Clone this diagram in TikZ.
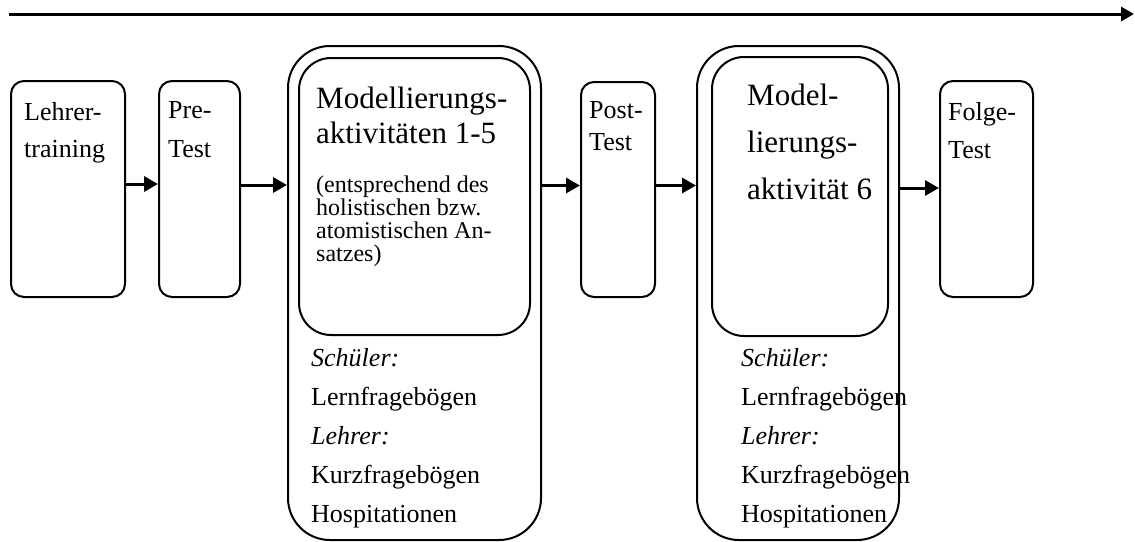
\documentclass[tikz,border=0pt]{standalone}
\usepackage{fontspec}
\setmainfont{Liberation Serif}
\usepackage{tikz}
\usetikzlibrary{arrows.meta, positioning}

\tikzset{
  stage/.style={draw, line width=2pt, rounded corners=13pt, anchor=north west,
    inner sep=0pt},
  phase/.style={draw, line width=2pt, rounded corners=42pt, anchor=north west,
    inner sep=0pt},
  core/.style={draw, line width=2pt, rounded corners=32pt, anchor=north west,
    inner sep=0pt},
  flow/.style={-{Triangle[length=14pt, width=15pt]}, line width=3pt},
  txt/.style={anchor=base west, align=left, inner sep=0pt}
}

\begin{document}
\begin{tikzpicture}[x=1pt, y=-1pt]
    \useasboundingbox (0,0) rectangle (1135,541);

    % time axis
    \coordinate (t0) at (9,14);
    \coordinate (t1) at (1134,14);
    \draw[flow, -{Triangle[length=13pt, width=14pt]}] (t0) -- (t1);

    % boxes
    \node[stage, minimum width=114pt, minimum height=216pt] (lehrer) at (10,80) {};
    \node[stage, minimum width=81pt, minimum height=216pt] (pre) at (158,80) {};
    \node[phase, minimum width=253pt, minimum height=494pt] (mod1) at (287,45) {};
    \node[core, minimum width=231pt, minimum height=277pt] (mod1in) at (298,57) {};
    \node[stage, minimum width=74pt, minimum height=215pt] (post) at (580,81) {};
    \node[phase, minimum width=202pt, minimum height=494pt] (mod2) at (696,45) {};
    \node[core, minimum width=176pt, minimum height=279pt] (mod2in) at (711,56) {};
    \node[stage, minimum width=93pt, minimum height=216pt] (folge) at (939,80) {};

    % texts (anchored at the baseline of the last line)
    \node[txt, font=\fontsize{26}{37}\selectfont] (lehrertxt) at (24,157)
      {Lehrer-\\training};
    \node[txt, font=\fontsize{26}{39}\selectfont] (pretxt) at (168,157)
      {Pre-\\Test};
    \node[txt, font=\fontsize{31}{35}\selectfont] (mod1txt) at (316,143)
      {Modellierungs-\\aktivitäten 1-5};
    \node[txt, font=\fontsize{24}{23}\selectfont] (mod1sub) at (316,261)
      {(entsprechend des\\holistischen bzw.\\atomistischen An-\\satzes)};
    \node[txt, font=\fontsize{26}{32}\selectfont] (posttxt) at (589,150)
      {Post-\\Test};
    \node[txt, font=\fontsize{31}{47}\selectfont] (mod2txt) at (747,199)
      {Model-\\lierungs-\\aktivität 6};
    \node[txt, font=\fontsize{26}{38}\selectfont] (folgetxt) at (948,158)
      {Folge-\\Test};
    \node[txt, font=\fontsize{26}{38.8}\selectfont] (mod1eval) at (311,522)
      {\textit{Schüler:}\\Lernfragebögen\\\textit{Lehrer:}\\Kurzfragebögen\\Hospitationen};
    \node[txt, font=\fontsize{26}{38.8}\selectfont] (mod2eval) at (741,522)
      {\textit{Schüler:}\\Lernfragebögen\\\textit{Lehrer:}\\Kurzfragebögen\\Hospitationen};

    % arrows
    \draw[flow] ([yshift=5pt]lehrer.east) -- ([yshift=5pt]pre.west);
    \draw[flow] ([yshift=4pt]pre.east) -- ([yshift=4pt]pre.east -| mod1.west);
    \draw[flow] ([yshift=4pt]post.west -| mod1.east) -- ([yshift=4pt]post.west);
    \draw[flow] ([yshift=4pt]post.east) -- ([yshift=4pt]post.east -| mod2.west);
    \draw[flow] ([yshift=1pt]folge.west -| mod2.east) -- ([yshift=1pt]folge.west);
  \end{tikzpicture}
\end{document}
